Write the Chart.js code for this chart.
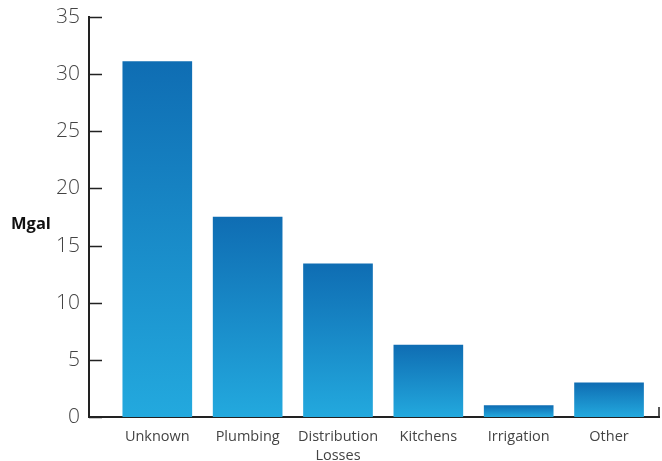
<!DOCTYPE html>
<html>
<head>
<meta charset="utf-8">
<script src="https://cdn.jsdelivr.net/npm/chart.js@4.4.0/dist/chart.umd.min.js"></script>
<style>
html, body { margin: 0; padding: 0; background: #fff; }
#contenedor { width: 662px; height: 461px; }
</style>
</head>
<body>
<div id="contenedor"><canvas id="myChart"></canvas></div>
<script>
var categorias = [['Unknown'], ['Plumbing'], ['Distribution', 'Losses'], ['Kitchens'], ['Irrigation'], ['Other']];
var valores = [31.1, 17.5, 13.4, 6.3, 1.0, 3.0];
var ticksY = [0, 5, 10, 15, 20, 25, 30, 35];
var unidad = 'Mgal';

var fuente = '"Open Sans", "Noto Sans", sans-serif';

// each bar goes from dark blue at the top to light blue at the base
function degradado(context) {
    var chart = context.chart;
    if (!chart.chartArea || context.type !== 'data') {
        return '#1a8acb';
    }
    var y = chart.scales.y;
    var arriba = y.getPixelForValue(context.raw.y);
    var base = y.getPixelForValue(0);
    var g = chart.ctx.createLinearGradient(0, arriba, 0, base);
    g.addColorStop(0, '#0f6db3');
    g.addColorStop(1, '#23a9de');
    return g;
}

// short tick marks inside the plot, end tick of the x axis and the unit label
var marcas = {
    id: 'marcas',
    afterDraw: function (chart) {
        var ctx = chart.ctx;
        var x = chart.scales.x;
        var y = chart.scales.y;
        ctx.save();
        ctx.strokeStyle = '#222';
        ctx.lineWidth = 1.5;
        ctx.beginPath();
        y.ticks.forEach(function (t) {
            var py = Math.round(y.getPixelForValue(t.value)) + 0.5;
            ctx.moveTo(x.left, py);
            ctx.lineTo(x.left + 13, py);
        });
        ctx.moveTo(x.right, y.bottom);
        ctx.lineTo(x.right, y.bottom - 10);
        ctx.stroke();
        ctx.fillStyle = '#111';
        ctx.font = 'bold 16.5px ' + fuente;
        ctx.textBaseline = 'middle';
        ctx.textAlign = 'left';
        ctx.fillText(unidad, 11, (y.top + y.bottom) / 2 + 7);
        ctx.restore();
    }
};

var datos = valores.map(function (v, i) { return { x: i, y: v }; });

var ctx = document.getElementById('myChart').getContext('2d');
var myChart = new Chart(ctx, {
    type: 'bar',
    data: {
        datasets: [{
            data: datos,
            backgroundColor: degradado,
            borderWidth: 0,
            barThickness: 69
        }]
    },
    options: {
        responsive: true,
        maintainAspectRatio: false,
        animation: false,
        layout: {
            padding: { top: 17, right: 3, left: 0, bottom: 0 }
        },
        plugins: {
            legend: { display: false },
            tooltip: { enabled: false }
        },
        scales: {
            x: {
                type: 'linear',
                offset: false,
                min: -0.756,
                max: 5.553,
                afterBuildTicks: function (scale) {
                    scale.ticks = categorias.map(function (c, i) { return { value: i }; });
                },
                afterFit: function (scale) {
                    scale.height = 44;
                    scale.paddingLeft = 0;
                    scale.paddingRight = 0;
                },
                grid: { display: false, drawTicks: false, offset: false },
                border: { display: true, color: '#222', width: 2 },
                ticks: {
                    autoSkip: false,
                    maxRotation: 0,
                    padding: 10,
                    color: '#444',
                    font: { family: fuente, size: 14.5, lineHeight: 1.35 },
                    callback: function (value) {
                        var c = categorias[value];
                        return c ? c : '';
                    }
                }
            },
            y: {
                min: 0,
                max: 35,
                afterBuildTicks: function (scale) {
                    scale.ticks = ticksY.map(function (v) { return { value: v }; });
                },
                afterFit: function (scale) {
                    scale.width = 89;
                    scale.paddingTop = 0;
                    scale.paddingBottom = 0;
                },
                grid: { display: false, drawTicks: false },
                border: { display: true, color: '#222', width: 2 },
                ticks: {
                    padding: 9,
                    color: '#444',
                    font: { family: fuente, size: 21, weight: 300 }
                }
            }
        }
    },
    plugins: [marcas]
});
</script>
</body>
</html>
